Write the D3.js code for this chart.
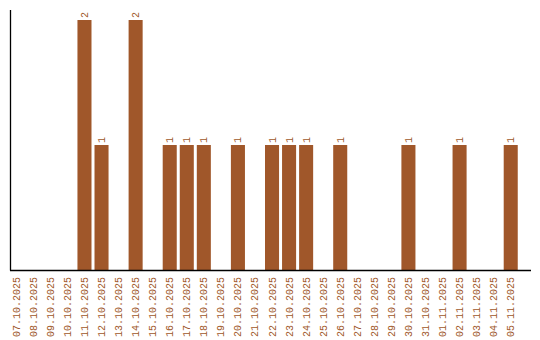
<!DOCTYPE html>
<html>
<head>
<meta charset="utf-8">
<script src="https://cdn.jsdelivr.net/npm/d3@7"></script>
<style>
  body { margin: 0; background: #fff; }
  text { font-family: "Liberation Mono", monospace; font-size: 10px; }
</style>
</head>
<body>
<div id="container"></div>
<script>
const dates = [
  "07.10.2025","08.10.2025","09.10.2025","10.10.2025","11.10.2025","12.10.2025",
  "13.10.2025","14.10.2025","15.10.2025","16.10.2025","17.10.2025","18.10.2025",
  "19.10.2025","20.10.2025","21.10.2025","22.10.2025","23.10.2025","24.10.2025",
  "25.10.2025","26.10.2025","27.10.2025","28.10.2025","29.10.2025","30.10.2025",
  "31.10.2025","01.11.2025","02.11.2025","03.11.2025","04.11.2025","05.11.2025"
];
const counts = [0,0,0,0,2,1,0,2,0,1,1,1,0,1,0,1,1,1,0,1,0,0,0,1,0,0,1,0,0,1];

const dataset = dates.map((d, i) => ({ date: d, count: counts[i] }));

const width = 540, height = 340;
const color = "#a0572a";

const svg = d3.select("#container")
  .append("svg")
  .attr("width", width)
  .attr("height", height);

// X scale (days)
const x = d3.scaleBand()
  .domain(dates)
  .range([8.5, 518.5])
  .paddingInner(3 / 17)
  .paddingOuter(1.5 / 17 / 2);

// Y scale (counts)
const y = d3.scaleLinear()
  .domain([0, 2])
  .range([270, 20]);

// bars
svg.selectAll("rect.bar")
  .data(dataset.filter(d => d.count > 0))
  .join("rect")
  .attr("class", "bar")
  .attr("x", d => x(d.date))
  .attr("y", d => y(d.count))
  .attr("width", x.bandwidth())
  .attr("height", d => y(0) - y(d.count))
  .attr("fill", color);

// value labels
svg.selectAll("text.val")
  .data(dataset.filter(d => d.count > 0))
  .join("text")
  .attr("class", "val")
  .attr("transform", d => `translate(${x(d.date) + x.bandwidth() / 2 + 3.5},${y(d.count) - 2}) rotate(-90)`)
  .attr("fill", color)
  .text(d => d.count);

// X axis
const xAxis = d3.axisBottom(x).tickSize(0).tickPadding(0);
const gx = svg.append("g")
  .attr("transform", "translate(0,270)")
  .call(xAxis);
gx.select(".domain").remove();
gx.selectAll("text")
  .attr("fill", color)
  .attr("text-anchor", "end")
  .attr("dy", null)
  .attr("y", 0)
  .attr("transform", "translate(3.5,7) rotate(-90)");

// axis lines
svg.append("line")
  .attr("x1", 10.5).attr("x2", 10.5)
  .attr("y1", 10).attr("y2", 270.5)
  .attr("stroke", "#000").attr("stroke-width", 1.3);
svg.append("line")
  .attr("x1", 10).attr("x2", 531)
  .attr("y1", 270.5).attr("y2", 270.5)
  .attr("stroke", "#000").attr("stroke-width", 1.3);
</script>
</body>
</html>
